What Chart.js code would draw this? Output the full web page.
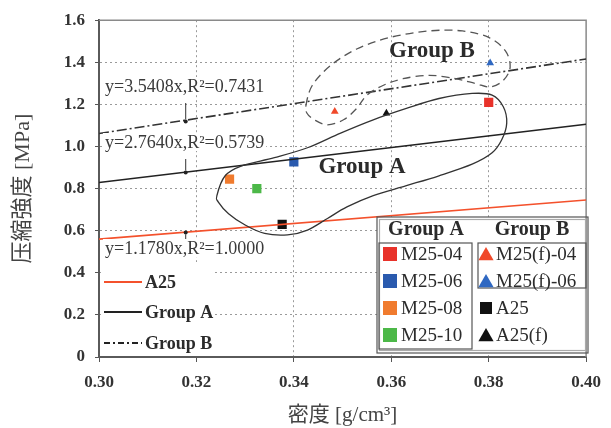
<!DOCTYPE html>
<html>
<head>
<meta charset="utf-8">
<script src="https://cdn.jsdelivr.net/npm/chart.js@4.4.1/dist/chart.umd.min.js"></script>
<style>
html, body { margin: 0; padding: 0; background: #fff; }
canvas { display: block; }
</style>
</head>
<body>
<canvas id="chart" width="611" height="428"></canvas>
<script>
// ---- data ----
const xTicks = [0.30, 0.32, 0.34, 0.36, 0.38, 0.40];
const yTicks = [0, 0.2, 0.4, 0.6, 0.8, 1.0, 1.2, 1.4, 1.6];

const sampleNames = ['M25-04', 'M25-06', 'M25-08', 'M25-10', 'A25', 'M25(f)-04', 'M25(f)-06', 'A25(f)'];
const sampleDensity = [0.380, 0.340, 0.3268, 0.3324, 0.3376, 0.3484, 0.3803, 0.359];
const sampleStrength = [1.21, 0.927, 0.845, 0.80, 0.63, 1.166, 1.397, 1.158];
const sampleColors = ['#e8322a', '#2a5aae', '#f07b2e', '#4cb848', '#111111', '#f0492a', '#2f68c2', '#111111'];
const sampleShapes = ['rect', 'rect', 'rect', 'rect', 'rect', 'triangle', 'triangle', 'triangle'];

const trendX = [0.30, 0.40];
const trendA25 = [0.560, 0.746];
const trendGroupA = [0.829, 1.106];
const trendGroupB = [1.062, 1.416];

const markerX = 0.3178;
const markerY = [1.119, 0.877, 0.592];
const equationLabels = ['y=3.5408x,R²=0.7431', 'y=2.7640x,R²=0.5739', 'y=1.1780x,R²=1.0000'];

// outlines around the two groups (density, strength)
const loopA = [
  [0.3242, 0.767], [0.3259, 0.861], [0.3293, 0.908], [0.3360, 0.947], [0.3428, 0.994],
  [0.3496, 1.064], [0.3563, 1.127], [0.3631, 1.181], [0.3698, 1.228], [0.3766, 1.252],
  [0.3807, 1.244], [0.3830, 1.189], [0.3837, 1.111], [0.3827, 1.033], [0.3807, 0.970],
  [0.3766, 0.916], [0.3698, 0.861], [0.3631, 0.814], [0.3563, 0.767], [0.3509, 0.713],
  [0.3469, 0.658], [0.3428, 0.603], [0.3387, 0.580], [0.3340, 0.587], [0.3300, 0.627],
  [0.3266, 0.681], [0.3245, 0.736]
];
const loopB = [
  [0.3425, 1.197], [0.3438, 1.291], [0.3475, 1.384], [0.3529, 1.463], [0.3597, 1.518],
  [0.3678, 1.549], [0.3746, 1.549], [0.3800, 1.518], [0.3834, 1.455], [0.3844, 1.377],
  [0.3830, 1.314], [0.3803, 1.283], [0.3773, 1.299], [0.3732, 1.322], [0.3678, 1.338],
  [0.3624, 1.322], [0.3584, 1.291], [0.3550, 1.244], [0.3529, 1.181], [0.3502, 1.127],
  [0.3469, 1.103], [0.3442, 1.127], [0.3427, 1.158]
];

const SERIF = '"Liberation Serif", "Times New Roman", serif';
const TITLE_FONT = '"Liberation Serif", "Noto Sans CJK JP", serif';

const pts = (xs, ys) => xs.map((x, i) => ({ x, y: ys[i] }));

const scatterSets = sampleNames.map((name, i) => ({
  label: name,
  data: [{ x: sampleDensity[i], y: sampleStrength[i] }],
  pointStyle: sampleShapes[i],
  pointRadius: sampleShapes[i] === 'rect' ? 6.5 : 4.5,
  backgroundColor: sampleColors[i],
  borderColor: sampleColors[i],
  borderWidth: 0
}));

const lineSet = (label, ys, color, dash) => ({
  label,
  data: pts(trendX, ys),
  showLine: true,
  borderColor: color,
  borderWidth: 1.6,
  borderDash: dash,
  pointRadius: 0,
  fill: false
});

function smoothClosed(ctx, p) {
  const n = p.length;
  ctx.moveTo(p[0][0], p[0][1]);
  for (let i = 0; i < n; i++) {
    const p0 = p[(i - 1 + n) % n], p1 = p[i], p2 = p[(i + 1) % n], p3 = p[(i + 2) % n];
    ctx.bezierCurveTo(
      p1[0] + (p2[0] - p0[0]) / 6, p1[1] + (p2[1] - p0[1]) / 6,
      p2[0] - (p3[0] - p1[0]) / 6, p2[1] - (p3[1] - p1[1]) / 6,
      p2[0], p2[1]
    );
  }
  ctx.closePath();
}

function drawTriangle(ctx, x, y, r, color) {
  ctx.fillStyle = color;
  ctx.beginPath();
  ctx.moveTo(x, y - r);
  ctx.lineTo(x + r * 0.95, y + r * 0.65);
  ctx.lineTo(x - r * 0.95, y + r * 0.65);
  ctx.closePath();
  ctx.fill();
}

const annotations = {
  id: 'annotations',
  beforeDatasetsDraw(chart) {
    const { ctx, chartArea: a } = chart;
    ctx.save();
    // blank regions behind the two legends
    ctx.fillStyle = '#fff';
    ctx.fillRect(a.left + 2, 262, 114, a.bottom - 263);
    ctx.fillRect(377, 217, 211, 136);
    // frame
    ctx.strokeStyle = '#8a8a8a';
    ctx.lineWidth = 1.5;
    ctx.beginPath();
    ctx.moveTo(a.left, a.top);
    ctx.lineTo(a.right, a.top);
    ctx.lineTo(a.right, a.bottom);
    ctx.stroke();
    ctx.restore();
  },
  afterDatasetsDraw(chart) {
    const { ctx, scales: { x, y } } = chart;
    const px = p => [x.getPixelForValue(p[0]), y.getPixelForValue(p[1])];
    ctx.save();

    // group outlines
    ctx.strokeStyle = '#333';
    ctx.lineWidth = 1.3;
    ctx.beginPath();
    smoothClosed(ctx, loopA.map(px));
    ctx.stroke();
    ctx.setLineDash([8, 5]);
    ctx.strokeStyle = '#555';
    ctx.beginPath();
    smoothClosed(ctx, loopB.map(px));
    ctx.stroke();
    ctx.setLineDash([]);

    ctx.fillStyle = '#2b2b2b';
    ctx.font = 'bold 23px ' + SERIF;
    ctx.textAlign = 'center';
    ctx.textBaseline = 'middle';
    ctx.fillText('Group A', 362, 167);
    ctx.fillText('Group B', 432, 51);

    // equation labels with arrows to the marker dots
    const labelY = [86, 142, 248];
    ctx.font = '18px ' + SERIF;
    ctx.textAlign = 'left';
    equationLabels.forEach((t, i) => {
      const w = ctx.measureText(t).width;
      ctx.fillStyle = '#fff';
      ctx.fillRect(103, labelY[i] - 9, w + 4, 18);
      ctx.fillStyle = '#3a3a3a';
      ctx.fillText(t, 105, labelY[i] + 1);
      const [mx, my] = px([markerX, markerY[i]]);
      const up = my < labelY[i];
      const y0 = up ? labelY[i] - 9 : labelY[i] + 17;
      const y1 = up ? my + 2 : my - 2;
      ctx.strokeStyle = '#333';
      ctx.lineWidth = 1;
      ctx.beginPath();
      ctx.moveTo(mx, y0);
      ctx.lineTo(mx, y1);
      ctx.stroke();
      ctx.fillStyle = '#222';
      ctx.beginPath();
      ctx.arc(mx, my, 2, 0, Math.PI * 2);
      ctx.fill();
    });

    // line legend (bottom left)
    const lineLegend = [
      ['A25', '#f4512c', []],
      ['Group A', '#222', []],
      ['Group B', '#222', [6, 3, 2, 3]]
    ];
    const lineRows = [282, 312, 343];
    ctx.font = 'bold 18px ' + SERIF;
    lineLegend.forEach(([t, c, d], i) => {
      ctx.strokeStyle = c;
      ctx.lineWidth = 2;
      ctx.setLineDash(d);
      ctx.beginPath();
      ctx.moveTo(104, lineRows[i]);
      ctx.lineTo(142, lineRows[i]);
      ctx.stroke();
      ctx.setLineDash([]);
      ctx.fillStyle = '#2b2b2b';
      ctx.fillText(t, 145, lineRows[i] + 1);
    });

    // symbol legend (bottom right)
    ctx.strokeStyle = '#555';
    ctx.lineWidth = 1.2;
    ctx.strokeRect(377, 217, 211, 136);
    ctx.strokeStyle = '#aaa';
    ctx.strokeRect(379.5, 219.5, 206, 131);
    ctx.strokeStyle = '#555';
    ctx.strokeRect(379, 243, 93, 106);
    ctx.strokeRect(478, 243, 108, 45);

    ctx.fillStyle = '#2b2b2b';
    ctx.font = 'bold 20px ' + SERIF;
    ctx.textAlign = 'center';
    ctx.fillText('Group A', 426, 230);
    ctx.fillText('Group B', 532, 230);

    const rows = [254, 281, 308, 335];
    ctx.font = '19px ' + SERIF;
    ctx.textAlign = 'left';
    [0, 1, 2, 3].forEach((k, r) => {
      ctx.fillStyle = sampleColors[k];
      ctx.fillRect(383, rows[r] - 7, 14, 14);
      ctx.fillStyle = '#2b2b2b';
      ctx.fillText(sampleNames[k], 401, rows[r] + 1);
    });
    [5, 6, 4, 7].forEach((k, r) => {
      if (sampleShapes[k] === 'rect') {
        ctx.fillStyle = sampleColors[k];
        ctx.fillRect(480, rows[r] - 6, 12, 12);
      } else {
        drawTriangle(ctx, 486, rows[r] + 1, 8, sampleColors[k]);
      }
      ctx.fillStyle = '#2b2b2b';
      ctx.fillText(sampleNames[k], 496, rows[r] + 1);
    });

    ctx.restore();
  }
};

const ctx = document.getElementById('chart').getContext('2d');

new Chart(ctx, {
  type: 'scatter',
  data: {
    datasets: [
      lineSet('A25 fit', trendA25, '#f4512c', []),
      lineSet('Group A fit', trendGroupA, '#222', []),
      lineSet('Group B fit', trendGroupB, '#333', [10, 3, 2, 3]),
      ...scatterSets
    ]
  },
  options: {
    responsive: false,
    devicePixelRatio: 1,
    animation: false,
    layout: { padding: { top: 16, right: 19, left: 0, bottom: 0 } },
    plugins: {
      legend: { display: false },
      tooltip: { enabled: false }
    },
    scales: {
      x: {
        type: 'linear',
        min: 0.30,
        max: 0.40,
        afterBuildTicks: s => { s.ticks = xTicks.map(v => ({ value: v })); },
        afterFit: s => { s.height = 71; },
        grid: {
          color: c => (c.index === 0 || c.index === xTicks.length - 1) ? 'rgba(0,0,0,0)' : '#9a9a9a',
          lineWidth: 1,
          tickLength: 5,
          tickColor: '#555'
        },
        border: { display: true, color: '#5a5a5a', width: 2, dash: [2, 3] },
        ticks: {
          padding: 10,
          color: '#333',
          font: { family: SERIF, size: 17, weight: 'bold' },
          callback: v => v.toFixed(2)
        },
        title: {
          display: true,
          text: '密度 [g/cm³]',
          color: '#444',
          font: { family: TITLE_FONT, size: 21 },
          padding: { top: 7, bottom: 0 }
        }
      },
      y: {
        type: 'linear',
        min: 0,
        max: 1.6,
        afterBuildTicks: s => { s.ticks = yTicks.map(v => ({ value: v })); },
        afterFit: s => { s.width = 99; },
        grid: {
          color: c => (c.index === 0 || c.index === yTicks.length - 1) ? 'rgba(0,0,0,0)' : '#9a9a9a',
          lineWidth: 1,
          tickLength: 4,
          tickColor: '#555'
        },
        border: { display: true, color: '#5a5a5a', width: 2, dash: [2, 3] },
        ticks: {
          padding: 10,
          color: '#333',
          font: { family: SERIF, size: 17, weight: 'bold' },
          callback: v => v === 0 ? '0' : v.toFixed(1)
        },
        title: {
          display: true,
          text: '压縮強度 [MPa]',
          color: '#444',
          font: { family: TITLE_FONT, size: 22 },
          padding: { top: 10, bottom: 0 }
        }
      }
    }
  },
  plugins: [annotations]
});
</script>
</body>
</html>
